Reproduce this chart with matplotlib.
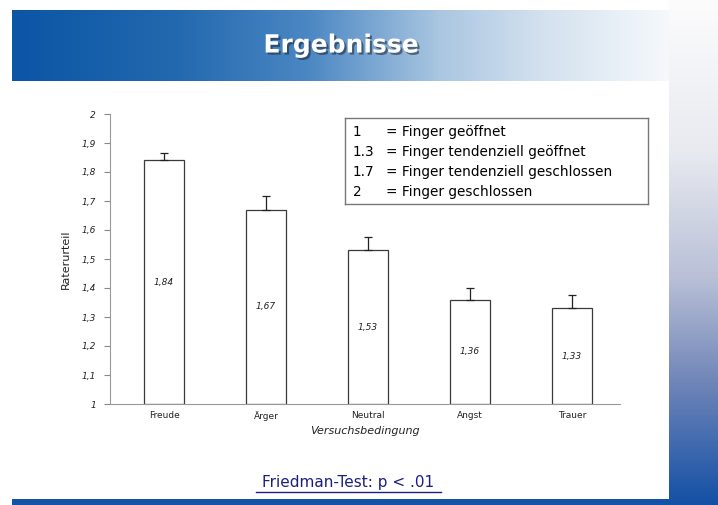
import numpy as np
import matplotlib
matplotlib.use("Agg")
import matplotlib.pyplot as plt
import matplotlib.patheffects as pe
from matplotlib.colors import LinearSegmentedColormap

# ---------- Daten ----------
categories = ["Freude", "Ärger", "Neutral", "Angst", "Trauer"]
means = [1.84, 1.67, 1.53, 1.36, 1.33]
errors = [0.024, 0.048, 0.046, 0.040, 0.047]
yticks = [1, 1.1, 1.2, 1.3, 1.4, 1.5, 1.6, 1.7, 1.8, 1.9, 2]
legend_lines = [
    ("1", "= Finger geöffnet"),
    ("1.3", "= Finger tendenziell geöffnet"),
    ("1.7", "= Finger tendenziell geschlossen"),
    ("2", "= Finger geschlossen"),
]

W, H = 718, 505
fig = plt.figure(figsize=(W / 100, H / 100), dpi=100)
fig.patch.set_facecolor("white")

def px_axes(x0, y0, x1, y1, **kw):
    # rectangle in pixel coords (origin top-left)
    return fig.add_axes([x0 / W, 1 - y1 / H, (x1 - x0) / W, (y1 - y0) / H], **kw)

# ---------- Kopfzeile ----------
head_cmap = LinearSegmentedColormap.from_list("head", [
    (0.0, (10/255, 85/255, 165/255)),
    (0.25, (35/255, 105/255, 175/255)),
    (0.45, (75/255, 135/255, 195/255)),
    (0.65, (170/255, 198/255, 225/255)),
    (0.8, (210/255, 224/255, 238/255)),
    (1.0, (246/255, 249/255, 252/255)),
])
hax = px_axes(12, 10, 670, 81)
hax.imshow(np.linspace(0, 1, 256)[None, :], aspect="auto", cmap=head_cmap,
           extent=(0, 1, 0, 1))
hax.set_axis_off()
hax.text(0.5, 0.5, "Ergebnisse", color="white", fontsize=18, fontweight="bold",
         ha="center", va="center", transform=hax.transAxes,
         path_effects=[pe.withSimplePatchShadow(offset=(1.5, -1.5),
                                                shadow_rgbFace="#202a40", alpha=0.6)])

# ---------- rechter Streifen ----------
side_cmap = LinearSegmentedColormap.from_list("side", [
    (0.0, (252/255, 252/255, 253/255)),
    (0.3, (232/255, 234/255, 240/255)),
    (0.55, (185/255, 192/255, 215/255)),
    (0.75, (115/255, 135/255, 185/255)),
    (1.0, (20/255, 80/255, 165/255)),
])
sax = px_axes(669, 0, 718, 505)
sax.imshow(np.linspace(0, 1, 256)[:, None], aspect="auto", cmap=side_cmap,
           extent=(0, 1, 0, 1))
sax.set_axis_off()

# untere Linie
bax = px_axes(12, 499, 669, 505)
bax.set_facecolor((20/255, 82/255, 165/255))
bax.set_xticks([]); bax.set_yticks([])
for s in bax.spines.values():
    s.set_visible(False)

# ---------- Diagramm ----------
ax = px_axes(110, 114, 620, 404)
x = np.arange(len(categories))
ax.bar(x, np.array(means) - 1, bottom=1, width=0.4, color="white",
       edgecolor="#3a3a3a", linewidth=0.9, zorder=2)
ax.errorbar(x, means, yerr=[np.zeros(len(errors)), errors], fmt="none",
            ecolor="#222222", elinewidth=0.9, capsize=3, capthick=0.9, zorder=3)
for xi, m in zip(x, means):
    ax.text(xi, (1 + m) / 2, f"{m:.2f}".replace(".", ","), ha="center",
            va="center", fontsize=6.5, style="italic", color="#222222", zorder=4)

ax.set_xlim(-0.53, len(categories) - 0.53)
ax.set_ylim(1, 2)
ax.set_yticks(yticks)
ax.set_yticklabels([f"{t:g}".replace(".", ",") for t in yticks],
                   fontsize=6.5, style="italic", color="#222222")
ax.set_xticks(x)
ax.set_xticklabels(categories, fontsize=6.5, color="#222222")
ax.tick_params(axis="x", length=0, pad=5)
ax.tick_params(axis="y", length=4, width=0.8, color="#888888", pad=6)
for side in ["top", "right"]:
    ax.spines[side].set_visible(False)
ax.spines["left"].set_color("#999999")
ax.spines["bottom"].set_color("#999999")
ax.set_ylabel("Raterurteil", fontsize=8, color="#222222", labelpad=8)
ax.set_xlabel("Versuchsbedingung", fontsize=8, style="italic", color="#222222",
              labelpad=4)

# Legende (Textkasten)
lax = px_axes(345, 118, 648, 204)
lax.set_xlim(0, 1); lax.set_ylim(0, 1)
lax.set_xticks([]); lax.set_yticks([])
lax.patch.set_alpha(0)
for s in lax.spines.values():
    s.set_color("#777777"); s.set_linewidth(1)
for i, (k, t) in enumerate(legend_lines):
    yy = 0.84 - i * 0.235
    lax.text(0.025, yy, k, fontsize=9.8, va="center", color="black")
    lax.text(0.135, yy, t, fontsize=9.8, va="center", color="black")

# Fusszeile
ft = fig.text(348 / W, 1 - 483 / H, "Friedman-Test: p < .01", fontsize=11,
              color="#1a2080", ha="center", va="center")
fig.lines.append(plt.Line2D([256 / W, 441 / W], [1 - 492 / H, 1 - 492 / H],
                            transform=fig.transFigure, color="#1a2080", lw=1))

fig.savefig("out.png", dpi=100)
